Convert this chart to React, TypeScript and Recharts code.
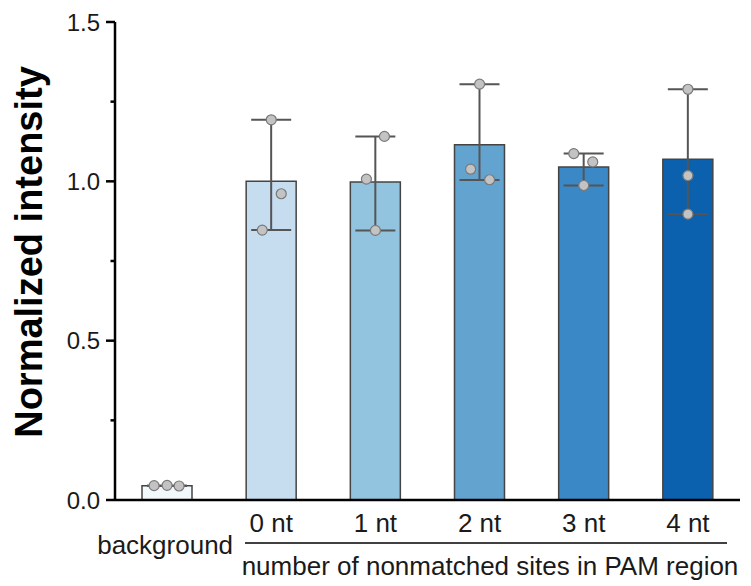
import { Bar, Cell, ComposedChart, ErrorBar, Scatter, XAxis, YAxis } from "recharts";

const FONT = "'Liberation Sans', Arial, sans-serif";

const categories = ["background", "0 nt", "1 nt", "2 nt", "3 nt", "4 nt"];
const means = [0.045, 1.0, 0.998, 1.115, 1.045, 1.069];
const errLow = [0.045, 0.847, 0.846, 1.004, 0.987, 0.897];
const errHigh = [0.045, 1.193, 1.141, 1.305, 1.087, 1.289];
const rep1 = [0.045, 1.193, 1.141, 1.305, 1.087, 1.289];
const rep2 = [0.046, 0.961, 1.007, 1.038, 1.061, 1.018];
const rep3 = [0.044, 0.847, 0.846, 1.005, 0.987, 0.897];
const yTicks = [0, 0.25, 0.5, 0.75, 1.0, 1.25, 1.5];
const majorTicks = [0, 0.5, 1.0, 1.5];

const barColors = ["#f1f9fa", "#c6dcef", "#93c4df", "#62a3d0", "#3a88c5", "#0b61ad"];
// horizontal jitter (px) of the three replicate dots in each group
const dotShift = [
	[-13, 0, 12],
	[0, 10, -9],
	[9, -9, 0],
	[0, -9, 10],
	[-10, 9, 0],
	[0, 0, 0],
];

const data = categories.map((name, i) => ({
	name,
	idx: i,
	mean: means[i],
	err: [means[i] - errLow[i], errHigh[i] - means[i]],
	r1: rep1[i],
	r2: rep2[i],
	r3: rep3[i],
}));

const TICK_SIZE = 9;
const TICK_MARGIN = 6;

function YTick(props: any) {
	const { x, y, payload } = props;
	const axisX = x + TICK_SIZE + TICK_MARGIN;
	const major = majorTicks.includes(payload.value);
	return (
		<g>
			<line
				x1={axisX - (major ? TICK_SIZE : 4.5)}
				x2={axisX}
				y1={y}
				y2={y}
				stroke="#000"
				strokeWidth={2.5}
			/>
			{major && (
				<text x={x} y={y} dy={8.5} textAnchor="end" fontSize={24} fontFamily={FONT} fill="#1a1a1a">
					{payload.value.toFixed(1)}
				</text>
			)}
		</g>
	);
}

function XTick(props: any) {
	const { x, y, payload } = props;
	if (payload.index === 0) {
		return (
			<text x={x + 66} y={y + 54} textAnchor="end" fontSize={26} fontFamily={FONT} fill="#1a1a1a">
				{payload.value}
			</text>
		);
	}
	return (
		<text x={x} y={y + 32} textAnchor="middle" fontSize={26} fontFamily={FONT} fill="#1a1a1a">
			{payload.value}
		</text>
	);
}

function makeDot(rep: number) {
	return (p: any) => {
		const shift = dotShift[p.payload.idx][rep];
		return <circle cx={p.cx + shift} cy={p.cy} r={5} fill="#c3c3c3" stroke="#7a7a7a" strokeWidth={1.2} />;
	};
}

function GroupTitle() {
	return (
		<g>
			<line x1={245} x2={727} y1={543} y2={543} stroke="#000" strokeWidth={1.5} />
			<text x={490} y={575} textAnchor="middle" fontSize={26} fontFamily={FONT} fill="#1a1a1a">
				number of nonmatched sites in PAM region
			</text>
		</g>
	);
}

function YTitle() {
	return (
		<text
			transform="translate(42,252) rotate(-90)"
			textAnchor="middle"
			fontSize={38}
			fontWeight="bold"
			fontFamily={FONT}
			fill="#000"
		>
			Normalized intensity
		</text>
	);
}

export default function App() {
	return (
		<div style={{ position: "absolute", left: 0, top: 0, background: "#fff" }}>
			<ComposedChart
				width={751}
				height={586}
				data={data}
				margin={{ top: 22, right: 11, bottom: 56, left: 0 }}
			>
				<XAxis
					dataKey="name"
					height={30}
					tickLine={false}
					tickSize={0}
					tickMargin={0}
					axisLine={{ stroke: "#000", strokeWidth: 2.5 }}
					tick={<XTick />}
					interval={0}
					label={{ content: <GroupTitle /> }}
				/>
				<YAxis
					width={115}
					domain={[0, 1.5]}
					ticks={yTicks}
					interval={0}
					tickLine={false}
					tickSize={TICK_SIZE}
					tickMargin={TICK_MARGIN}
					axisLine={{ stroke: "#000", strokeWidth: 2.5 }}
					tick={<YTick />}
					label={{ content: <YTitle /> }}
				/>
				<Bar dataKey="mean" barSize={50} stroke="#444" strokeWidth={1.5} isAnimationActive={false}>
					{data.map((d) => (
						<Cell key={d.name} fill={barColors[d.idx]} />
					))}
					<ErrorBar dataKey="err" width={20} stroke="#555" strokeWidth={2} direction="y" />
				</Bar>
				<Scatter dataKey="r1" shape={makeDot(0)} isAnimationActive={false} />
				<Scatter dataKey="r2" shape={makeDot(1)} isAnimationActive={false} />
				<Scatter dataKey="r3" shape={makeDot(2)} isAnimationActive={false} />
			</ComposedChart>
		</div>
	);
}
